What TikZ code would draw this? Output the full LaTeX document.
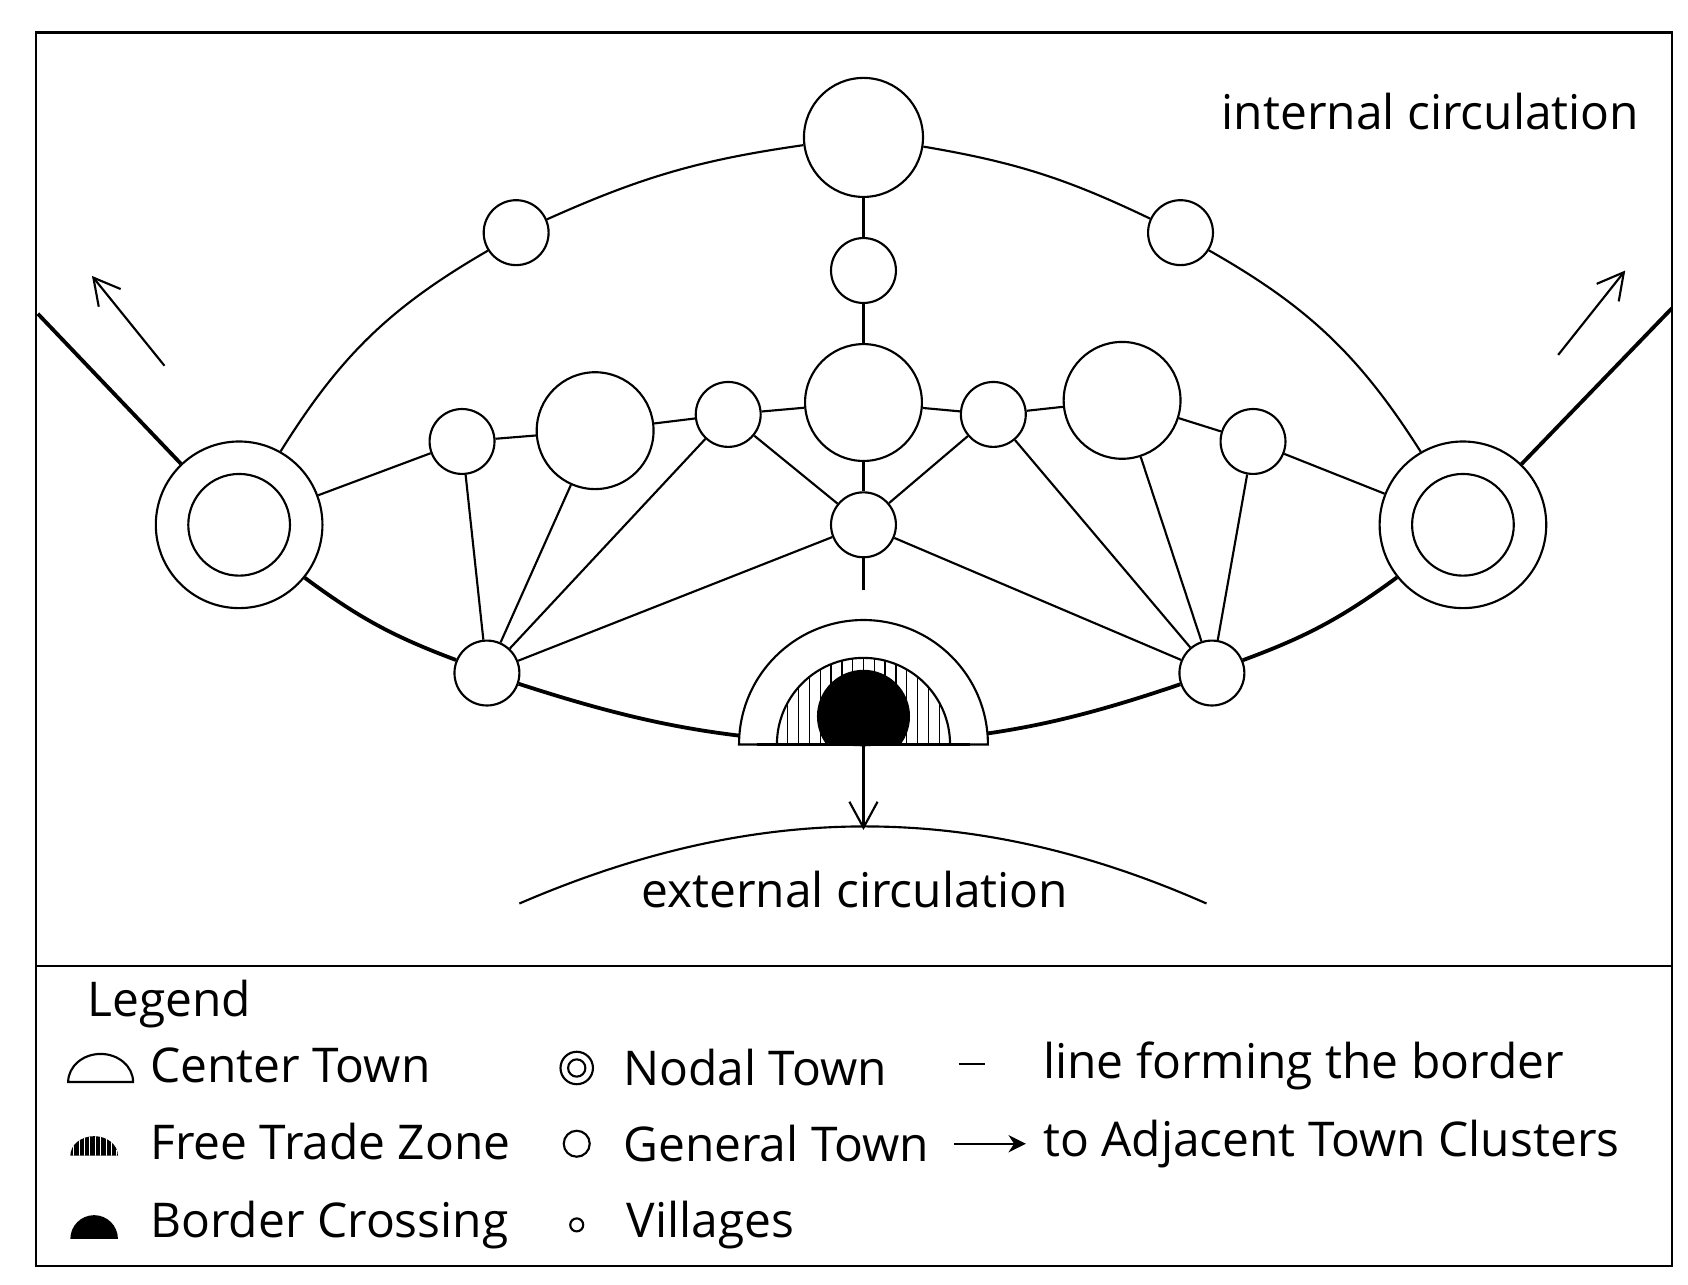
\documentclass[tikz,border=0pt]{standalone}
\usepackage{fontspec}
\setmainfont{Open Sans}
\usetikzlibrary{arrows.meta}
\begin{document}
\begin{tikzpicture}[x=0.05cm,y=-0.05cm,line width=2.8pt,
  gt/.style={circle,draw,fill=white,inner sep=0pt,minimum size=3cm},
  bt/.style={circle,draw,fill=white,inner sep=0pt,minimum size=5.4cm},
  nt/.style={circle,draw,fill=white,inner sep=0pt,minimum size=7.7cm},
  border/.style={line width=5pt},
  arr/.style={-{Straight Barb[length=1.2cm,width=1.3cm]}},
  lbl/.style={font=\fontsize{63}{72}\selectfont,inner sep=0pt},
  leg/.style={lbl,anchor=west}]
\useasboundingbox (0,0) rectangle (1560,1187);
\draw (33,30) rectangle (1545,1170);
\draw (33,893) -- (1545,893);
% nodes
\node[bt,minimum size=5.5cm] (T) at (798,127) {};
\node[gt] (T2) at (798,250) {};
\node[bt] (C) at (798,372) {};
\node[gt] (C2) at (798,485) {};
\node[gt] (U1) at (477,215) {};
\node[gt] (U2) at (1091,215) {};
\node[nt] (N1) at (221,485) {};
\node[nt] (N2) at (1352,485) {};
\node[circle,draw,inner sep=0pt,minimum size=4.7cm] (N1i) at (221,485) {};
\node[circle,draw,inner sep=0pt,minimum size=4.7cm] (N2i) at (1352,485) {};
\node[gt] (M1) at (427,408) {};
\node[bt] (M2) at (550,398) {};
\node[gt] (M3) at (673,383) {};
\node[gt] (M4) at (918,383) {};
\node[bt] (M5) at (1037,370) {};
\node[gt] (M6) at (1158,408) {};
\node[gt] (L1) at (450,622) {};
\node[gt] (L2) at (1120,622) {};
\coordinate (A) at (798,545);
\coordinate (B) at (798,688);
\coordinate (E) at (798,767);
\coordinate (EL) at (480,835);
\coordinate (ER) at (1115,835);
% outer arc
\draw (N1) to[bend left=14] (U1);
\draw (U1) to[bend left=8] (T);
\draw (T) to[bend left=8] (U2);
\draw (U2) to[bend left=14] (N2);
% ring line
\draw (N1) -- (M1) -- (M2) -- (M3) -- (C) -- (M4) -- (M5) -- (M6) -- (N2);
\draw (T) -- (T2) -- (C) -- (C2) -- (A);
\foreach \a in {M1,M2,M3,C2} \draw (L1) -- (\a);
\foreach \a in {M6,M5,M4,C2} \draw (L2) -- (\a);
\draw (C2) -- (M3); \draw (C2) -- (M4);
% border
\draw[border] (N1) to[bend right=8] (L1);
\draw[border] (L1) to[bend right=8] (B);
\draw[border] (B) to[bend right=8] (L2);
\draw[border] (L2) to[bend right=8] (N2);
\draw[border] (N1) -- (35,290);
\draw[border] (N2) -- (1545,285);
\node (a1) at (152,338) {}; \node (a2) at (85,255) {};
\node (a3) at (1440,328) {}; \node (a4) at (1502,250) {};
\draw[arr] (a1.center) -- (a2.center);
\draw[arr] (a3.center) -- (a4.center);
% center town
\draw[fill=white] (683,688) arc (180:360:115) -- cycle;
\begin{scope}
\clip (718,688) arc (180:360:80) -- cycle;
\foreach \i in {0,...,16} \draw[line width=1.8pt] (718+\i*10,600) -- (718+\i*10,690);
\end{scope}
\draw (718,688) arc (180:360:80);
\begin{scope}\clip (740,600) rectangle (860,688);
\fill (798,662) circle (43);
\end{scope}
\draw[border] (700,688) -- (896,688);
\draw[arr] (B) -- (E);
\draw (EL) .. controls (700,740) and (900,740) .. (ER);
\node[lbl] (ext) at (790,822) {external circulation};
\node[lbl] (int) at (1322,103) {internal circulation};
% legend
\node[leg] (lg) at (80,928) {Legend};
\draw (63,1000) arc (180:360:30 and 26) -- cycle;
\begin{scope}\clip (65,1068) arc (180:360:22 and 18) -- cycle;
\fill (65,1068) rectangle (109,1040);
\foreach \i in {0,...,8} \draw[white,line width=1pt] (68+\i*5,1040) -- (68+\i*5,1070);
\end{scope}
\fill (65,1145) arc (180:360:22 and 22) -- cycle;
\node[circle,draw,minimum size=1.5cm,inner sep=0pt] (ln) at (533,987) {};
\node[circle,draw,minimum size=0.8cm,inner sep=0pt] at (533,987) {};
\node[circle,draw,minimum size=1.2cm,inner sep=0pt] (lg2) at (533,1057) {};
\node[circle,draw,minimum size=0.6cm,inner sep=0pt] (lv) at (533,1132) {};
\draw[line width=3pt] (886,983) -- (910,983);
\draw[-{Stealth[length=0.8cm,width=0.8cm]}] (882,1057) -- (948,1057);
\node[leg] at (138,985) {Center Town};
\node[leg] at (138,1055) {Free Trade Zone};
\node[leg] at (138,1132) {Border Crossing};
\node[leg] at (575,987) {Nodal Town};
\node[leg] at (575,1057) {General Town};
\node[leg] at (578,1132) {Villages};
\node[leg] at (963,985) {line forming the border};
\node[leg] at (963,1057) {to Adjacent Town Clusters};
\end{tikzpicture}
\end{document}
